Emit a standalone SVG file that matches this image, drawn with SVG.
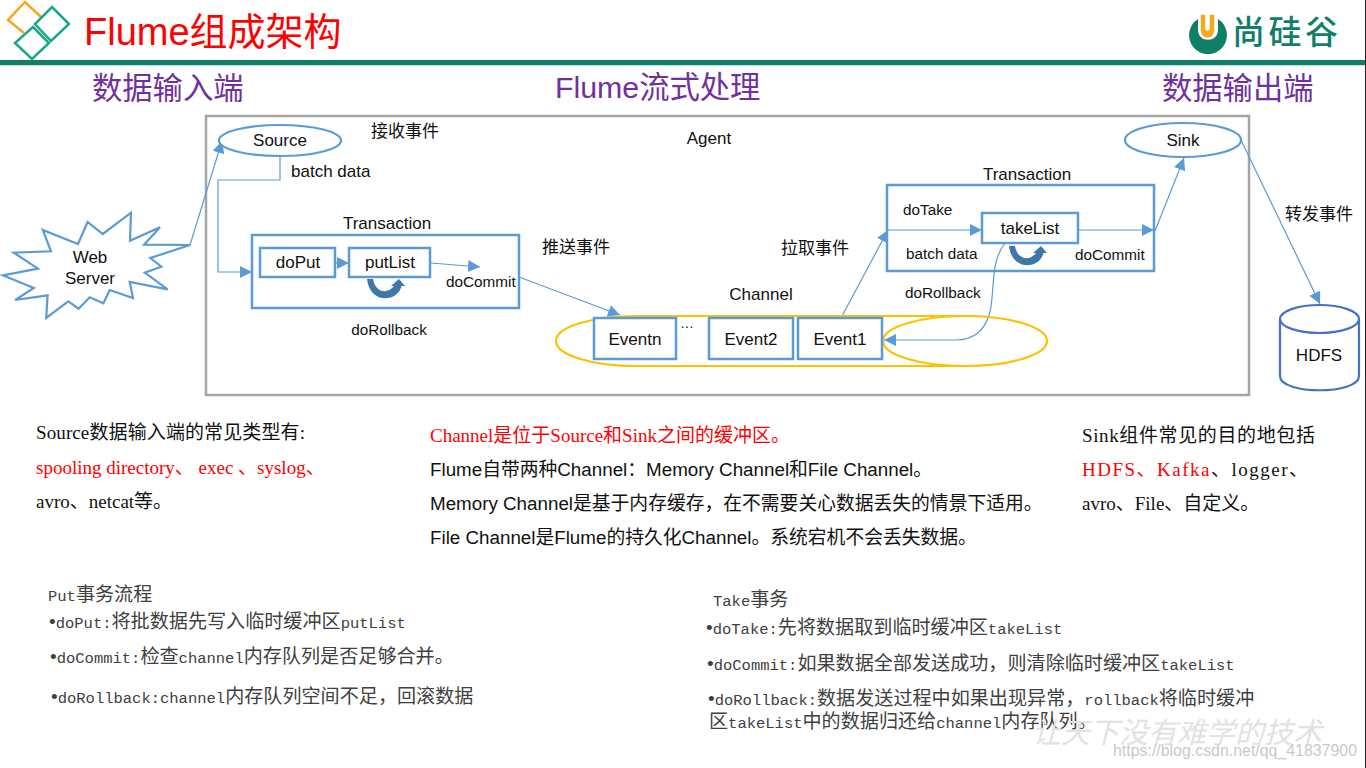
<svg xmlns="http://www.w3.org/2000/svg" width="1366" height="768" viewBox="0 0 1366 768">
<style>
text{font-family:"Liberation Sans","Noto Sans CJK SC",sans-serif;fill:#111;font-size:17px}
.c{text-anchor:middle}
.h{font-size:30.300px;fill:#7030a0}
.l{font-size:15.300px}
.s{font-family:"Liberation Serif","Noto Sans CJK SC",serif;font-size:19px}
.a{font-size:18.800px}
.r{fill:#f00}
.d{font-size:19.100px;fill:#404040}
.m{font-family:"Liberation Mono","Noto Sans CJK SC",monospace;font-size:15.500px;fill:#404040}
.box{fill:#fff;stroke:#5b9bd5;stroke-width:2.5}
.thin{fill:none;stroke:#5b9bd5;stroke-width:1.2}
.sh{fill:#fff;stroke:#5b9bd5;stroke-width:2.2}
.ch{fill:none;stroke:#ffc000;stroke-width:2.2}
</style>
<defs>
<marker id="ah" markerUnits="userSpaceOnUse" markerWidth="16" markerHeight="14" refX="12" refY="6" orient="auto"><path d="M0,0 L12,6 L0,12Z" fill="#5b9bd5"/></marker>
<path id="uturn" fill="#3f77a8" d="M0,1 H6 C8,14 20,17 27,8 L24,8 L32,1 L38,8 L34.500,8 C31,24 3,27 0,1Z"/>
</defs>
<rect width="1366" height="768" fill="#fff"/>
<rect x="1365" y="0" width="1" height="768" fill="#222"/>

<g id="header">
<path d="M41,17 L25,2 L8,20 L24,33" fill="none" stroke="#f5a81c" stroke-width="2.5"/>
<path d="M52,7 L69,24 L51,41 L35,24Z" fill="none" stroke="#1aa88c" stroke-width="2.5"/>
<path d="M33,27 L49,43 L32,59 L15,43Z" fill="none" stroke="#1aa88c" stroke-width="2.5"/>
<text x="84" y="45" style="font-size:38px;fill:#f00">Flume组成架构</text>
<rect x="0" y="60" width="1365" height="5" fill="#0f7f68"/>
<rect x="0" y="65" width="1365" height="1" fill="#bfe5e0"/>
<path d="M1198,19 A19,19 0 1 0 1218,19 L1218,30 C1218,43 1198,43 1198,30Z" fill="#0f7f68"/>
<path d="M1200,14 H1206 V29 Q1207.500,31 1209,29 V14 H1215 V30 C1215,41 1200,41 1200,30Z" fill="#f5a81c" stroke="#fff" stroke-width="1.500"/>
<text x="1232" y="44" style="font-size:33px;font-weight:500;letter-spacing:3.500px;fill:#0f7f68">尚硅谷</text>
</g>

<g id="headings">
<text class="h" x="92" y="99">数据输入端</text>
<text class="h" x="555" y="98">Flume流式处理</text>
<text class="h" x="1162" y="99">数据输出端</text>
</g>

<g id="agent"><rect x="206" y="116" width="1043" height="279" fill="none" stroke="#a5a5a5" stroke-width="2.5"/>
<text class="c" x="709" y="144">Agent</text></g>

<g id="connectors">
<path class="thin" d="M190,245 L222,141" marker-end="url(#ah)"/>
<path class="thin" d="M280,156 V180 H218 V272 H252" marker-end="url(#ah)"/>
<path class="thin" d="M336,263 H349" marker-end="url(#ah)"/>
<path class="thin" d="M431,263 L480,267" marker-end="url(#ah)"/>
<path class="thin" d="M519,277 L620,315" marker-end="url(#ah)"/>
<path class="thin" d="M841,318 L888,230" marker-end="url(#ah)"/>
<path class="thin" d="M888,230 H982" marker-end="url(#ah)"/>
<path class="thin" d="M1078,230 H1154" marker-end="url(#ah)"/>
<path class="thin" d="M1155,231 L1184,158" marker-end="url(#ah)"/>
<path class="thin" d="M1241,140 L1320,304" marker-end="url(#ah)"/>
<path class="thin" d="M1005,243 C990,262 995,290 990,312 C985,330 975,340 955,340 H884" marker-end="url(#ah)"/>
</g>

<g id="web-server"><polygon class="sh" points="190,245 144,244.700 160,227.300 130,240.700 131,212.700 102.800,234 87.600,222 78,244 42.800,230 51,251.300 13.800,252.700 38,268.700 2.800,275.300 33.800,288 15.200,300 47.600,295.300 46.200,318 68.300,301.300 78.600,308.700 89.700,297.300 103.400,303.300 109.700,290 133,298 129.700,282 167.600,289.300 144.800,272.700 161.400,266.700 150.300,258"/>
<text class="c" x="90" y="263">Web</text><text class="c" x="90" y="284">Server</text></g>
<g id="source"><ellipse class="sh" cx="280" cy="140.500" rx="61" ry="15.500"/><text class="c" x="280" y="146">Source</text></g>
<g id="sink"><ellipse class="sh" cx="1183" cy="140" rx="58" ry="17"/><text class="c" x="1183" y="146">Sink</text></g>
<g id="put-transaction">
<rect x="252" y="235" width="267" height="73" fill="none" stroke="#5b9bd5" stroke-width="2.5"/>
<text class="c" x="387" y="229">Transaction</text>
<text class="l" x="446" y="287">doCommit</text>
<use href="#uturn" x="367" y="278"/>
</g>
<g id="doPut"><rect class="box" x="260" y="248" width="75" height="29"/><text class="c" x="298" y="268">doPut</text></g>
<g id="putList"><rect class="box" x="349" y="248" width="81" height="29"/><text class="c" x="390" y="268">putList</text></g>
<g id="channel">
<path class="ch" d="M965,316 H636 A80,25 0 0 0 636,366 H965"/>
<ellipse class="ch" cx="965" cy="341" rx="82" ry="25"/>
<text class="c" x="761" y="300">Channel</text>
<text x="680" y="328" style="font-size:14px">…</text>
</g>
<g id="eventn"><rect class="box" x="594" y="318" width="82" height="41"/><text class="c" x="635" y="345">Eventn</text></g>
<g id="event2"><rect class="box" x="709" y="318" width="84" height="41"/><text class="c" x="751" y="345">Event2</text></g>
<g id="event1"><rect class="box" x="798" y="318" width="84" height="41"/><text class="c" x="840" y="345">Event1</text></g>
<g id="take-transaction">
<rect x="887" y="185" width="267" height="86" fill="none" stroke="#5b9bd5" stroke-width="2.5"/>
<text class="c" x="1027" y="180">Transaction</text>
<text class="l" x="903" y="215">doTake</text>
<text class="l" x="906" y="259">batch data</text>
<text class="l" x="1075" y="260">doCommit</text>
<use href="#uturn" x="1009" y="245"/>
</g>
<g id="takeList"><rect class="box" x="982" y="213" width="96" height="30"/><text class="c" x="1030" y="234">takeList</text></g>
<g id="hdfs">
<path d="M1280,319 V376 C1280,395 1359,395 1359,376 V319" fill="#fff" stroke="#4472c4" stroke-width="2.2"/>
<ellipse cx="1319.500" cy="319" rx="39.500" ry="14" fill="#fff" stroke="#4472c4" stroke-width="2.2"/>
<text class="c" x="1319" y="361">HDFS</text>
</g>
<g id="labels">
<text x="371" y="137">接收事件</text>
<text x="291" y="177">batch data</text>
<text class="c l" x="389" y="335">doRollback</text>
<text x="542" y="253">推送事件</text>
<text x="781" y="254">拉取事件</text>
<text class="l" x="905" y="298">doRollback</text>
<text x="1285" y="220">转发事件</text>
</g>
<g id="notes-source">
<text class="s" x="36" y="439" textLength="269">Source数据输入端的常见类型有:</text>
<text class="s r" x="36" y="474">spooling directory、 exec 、syslog、</text>
<text class="s" x="36" y="508">avro、netcat等。</text>
</g>
<g id="notes-channel">
<text class="s r" x="430" y="442">Channel是位于Source和Sink之间的缓冲区。</text>
<text class="a" x="430" y="476">Flume自带两种Channel：Memory Channel和File Channel。</text>
<text class="a" x="430" y="510">Memory Channel是基于内存缓存，在不需要关心数据丢失的情景下适用。</text>
<text class="a" x="430" y="544">File Channel是Flume的持久化Channel。系统宕机不会丢失数据。</text>
</g>
<g id="notes-sink">
<text class="s" x="1082" y="442" textLength="233">Sink组件常见的目的地包括</text>
<text class="s" x="1082" y="476" textLength="226"><tspan class="r">HDFS、Kafka</tspan>、logger、</text>
<text class="s" x="1082" y="510">avro、File、自定义。</text>
</g>
<g id="notes-put">
<text class="d" x="48" y="601"><tspan class="m">Put</tspan>事务流程</text>
<text class="d" x="49" y="628">•<tspan class="m">doPut:</tspan>将批数据先写入临时缓冲区<tspan class="m">putList</tspan></text>
<text class="d" x="50" y="663">•<tspan class="m">doCommit:</tspan>检查<tspan class="m">channel</tspan>内存队列是否足够合并。</text>
<text class="d" x="51" y="703">•<tspan class="m">doRollback:channel</tspan>内存队列空间不足，回滚数据</text>
</g>
<g id="notes-take">
<text class="d" x="713" y="606"><tspan class="m">Take</tspan>事务</text>
<text class="d" x="706" y="634">•<tspan class="m">doTake:</tspan>先将数据取到临时缓冲区<tspan class="m">takeList</tspan></text>
<text class="d" x="707" y="670">•<tspan class="m">doCommit:</tspan>如果数据全部发送成功，则清除临时缓冲区<tspan class="m">takeList</tspan></text>
<text class="d" x="708" y="705">•<tspan class="m">doRollback:</tspan>数据发送过程中如果出现异常，<tspan class="m">rollback</tspan>将临时缓冲</text>
<text class="d" x="709" y="728">区<tspan class="m">takeList</tspan>中的数据归还给<tspan class="m">channel</tspan>内存队列。</text>
</g>
<g id="watermark">
<text x="1032" y="743" style="font-size:29px;fill:#e2e2e2;font-style:italic">让天下没有难学的技术</text>
<text x="1113" y="756" textLength="244" lengthAdjust="spacingAndGlyphs" style="font-size:15.700px;fill:#c9c9c9">https://blog.csdn.net/qq_41837900</text>
</g>
</svg>
